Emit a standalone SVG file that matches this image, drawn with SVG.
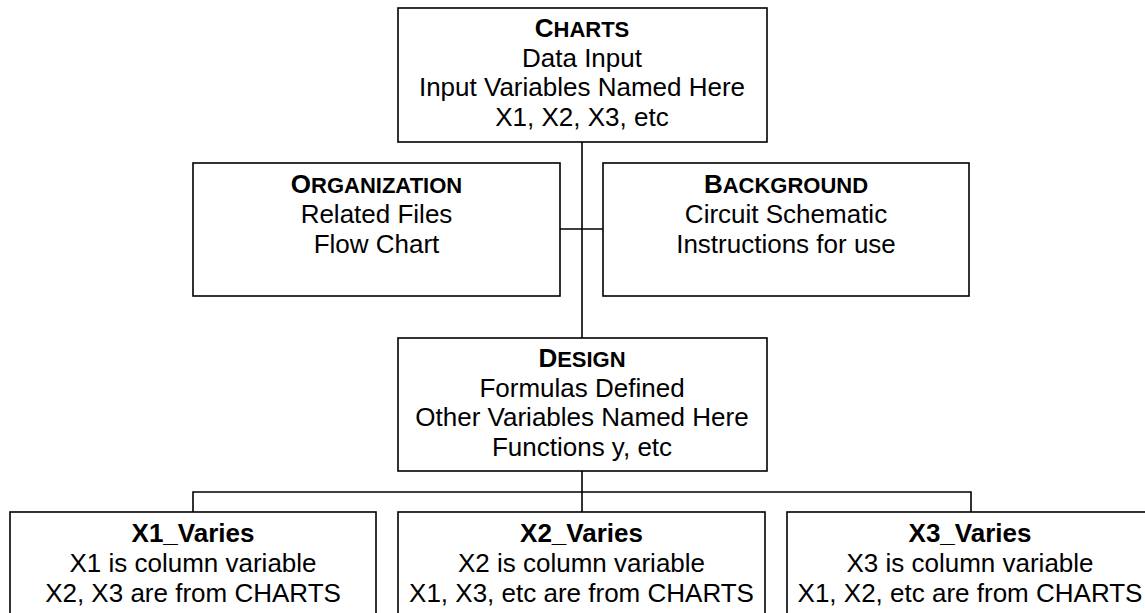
<svg xmlns="http://www.w3.org/2000/svg" width="1145" height="613" viewBox="0 0 1145 613">
<style>
.box{fill:#fff;stroke:#000;stroke-width:1.6}
.ln{fill:none;stroke:#000;stroke-width:1.6}
text{font-family:"Liberation Sans",Arial,sans-serif;font-size:26px;fill:#000;text-anchor:middle}
.t{font-weight:bold}
.sc{font-size:22px}
</style>
<rect width="1145" height="613" fill="#fff"/>
<g id="connectors">
<line class="ln" x1="582" y1="142" x2="582" y2="338"/>
<line class="ln" x1="560" y1="229" x2="603" y2="229"/>
<line class="ln" x1="582" y1="471" x2="582" y2="512"/>
<polyline class="ln" points="193,512 193,492 971,492 971,512"/>
</g>
<g id="charts">
<rect class="box" x="398" y="8" width="369" height="134"/>
<text x="582" y="37" class="t">C<tspan class="sc">HARTS</tspan></text>
<text x="582" y="67">Data Input</text>
<text x="582" y="96">Input Variables Named Here</text>
<text x="582" y="126">X1, X2, X3, etc</text>
</g>
<g id="organization">
<rect class="box" x="193" y="163" width="367" height="133"/>
<text x="376.5" y="193" class="t">O<tspan class="sc">RGANIZATION</tspan></text>
<text x="376.5" y="223">Related Files</text>
<text x="376.5" y="253">Flow Chart</text>
</g>
<g id="background">
<rect class="box" x="603" y="163" width="366" height="133"/>
<text x="786" y="193" class="t">B<tspan class="sc">ACKGROUND</tspan></text>
<text x="786" y="223">Circuit Schematic</text>
<text x="786" y="253">Instructions for use</text>
</g>
<g id="design">
<rect class="box" x="398" y="338" width="369" height="133"/>
<text x="582" y="367" class="t">D<tspan class="sc">ESIGN</tspan></text>
<text x="582" y="397">Formulas Defined</text>
<text x="582" y="426">Other Variables Named Here</text>
<text x="582" y="456">Functions y, etc</text>
</g>
<g id="x1">
<rect class="box" x="10" y="512" width="366" height="134"/>
<text x="193" y="542" class="t">X1_Varies</text>
<text x="193" y="572">X1 is column variable</text>
<text x="193" y="602">X2, X3 are from CHARTS</text>
</g>
<g id="x2">
<rect class="box" x="398" y="512" width="367" height="134"/>
<text x="581.5" y="542" class="t">X2_Varies</text>
<text x="581.5" y="572">X2 is column variable</text>
<text x="581.5" y="602">X1, X3, etc are from CHARTS</text>
</g>
<g id="x3">
<rect class="box" x="787" y="512" width="366" height="134"/>
<text x="970" y="542" class="t">X3_Varies</text>
<text x="970" y="572">X3 is column variable</text>
<text x="970" y="602">X1, X2, etc are from CHARTS</text>
</g>
</svg>
